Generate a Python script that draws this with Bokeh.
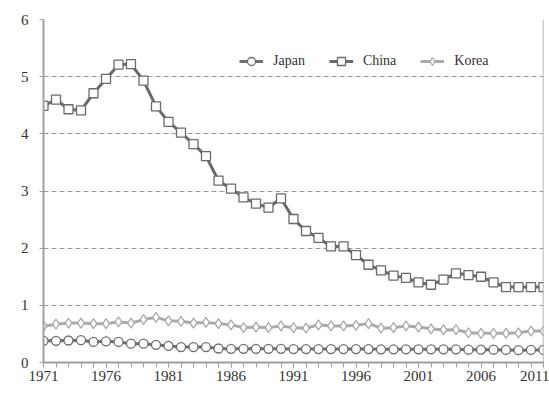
from bokeh.plotting import figure
from bokeh.models import Range1d, FixedTicker, Span, Legend, LegendItem, Label
from bokeh.embed import file_html
from bokeh.resources import INLINE

years = list(range(1971, 2012))

japan = [0.38, 0.38, 0.385, 0.39, 0.36, 0.37, 0.36, 0.33, 0.33, 0.31,
         0.29, 0.27, 0.27, 0.27, 0.245, 0.24, 0.24, 0.24, 0.24, 0.24,
         0.235, 0.235, 0.235, 0.235, 0.235, 0.235, 0.235, 0.23, 0.23, 0.23,
         0.23, 0.23, 0.23, 0.23, 0.225, 0.225, 0.225, 0.22, 0.215, 0.22, 0.22]

china = [4.49, 4.60, 4.43, 4.41, 4.71, 4.96, 5.21, 5.22, 4.93, 4.48,
         4.21, 4.02, 3.82, 3.61, 3.18, 3.04, 2.89, 2.78, 2.71, 2.87,
         2.51, 2.30, 2.18, 2.03, 2.03, 1.88, 1.71, 1.61, 1.52, 1.48,
         1.40, 1.36, 1.45, 1.56, 1.53, 1.50, 1.40, 1.32, 1.32, 1.32, 1.32]

korea = [0.635, 0.67, 0.69, 0.69, 0.68, 0.68, 0.71, 0.69, 0.75, 0.79,
         0.73, 0.72, 0.69, 0.70, 0.68, 0.66, 0.61, 0.62, 0.61, 0.64,
         0.61, 0.60, 0.66, 0.64, 0.64, 0.65, 0.68, 0.60, 0.61, 0.64,
         0.62, 0.59, 0.57, 0.575, 0.52, 0.51, 0.51, 0.51, 0.52, 0.55, 0.55]

series_names = ["Japan", "China", "Korea"]
major_years = list(range(1971, 2012, 5))
y_ticks = [0, 1, 2, 3, 4, 5, 6]
y_title = "CO\u2082 emissions per unit GDP (kg-CO\u2082/US$)"

FONT = "Liberation Serif"
TXT = "#333333"
AX = "#a0a0a0"

p = figure(width=549, height=398, output_backend="svg", toolbar_location=None,
           x_range=Range1d(1971, 2011), y_range=Range1d(0, 6),
           min_border_left=43, min_border_right=6, min_border_top=19, min_border_bottom=36)
p.outline_line_color = None
p.background_fill_color = "white"
p.border_fill_color = "white"

# axes
p.xaxis.ticker = FixedTicker(ticks=major_years, minor_ticks=years)
p.xaxis.major_tick_out = 5
p.xaxis.major_tick_in = 0
p.xaxis.minor_tick_out = 5
p.xaxis.minor_tick_in = 0
p.xaxis.axis_line_color = AX
p.xaxis.major_tick_line_color = AX
p.xaxis.minor_tick_line_color = AX
p.xaxis.axis_line_width = 2
p.xaxis.major_label_text_font = FONT
p.xaxis.major_label_text_font_size = "15px"
p.xaxis.major_label_text_color = TXT
p.xaxis.major_label_standoff = 3

p.yaxis.ticker = FixedTicker(ticks=y_ticks, minor_ticks=[])
p.yaxis.major_tick_out = 4
p.yaxis.major_tick_in = 0
p.yaxis.minor_tick_line_color = None
p.yaxis.axis_line_color = AX
p.yaxis.major_tick_line_color = AX
p.yaxis.axis_line_width = 2
p.yaxis.major_label_text_font = FONT
p.yaxis.major_label_text_font_size = "15px"
p.yaxis.major_label_text_color = TXT
p.yaxis.major_label_standoff = 11

p.xgrid.grid_line_color = None
p.ygrid.ticker = FixedTicker(ticks=y_ticks[1:])
p.ygrid.grid_line_color = "#9a9a9a"
p.ygrid.grid_line_dash = "5 3"
p.ygrid.grid_line_width = 1

p.add_layout(Span(location=2011, dimension="height", line_color=AX, line_width=1.5))

# series
r_j_line = p.line(years, japan, line_color="#6e6e6e", line_width=3)
r_j_mark = p.scatter(years, japan, marker="circle", size=9, fill_color="white",
                     line_color="#6e6e6e", line_width=1.3)
r_c_line = p.line(years, china, line_color="#6a6a6a", line_width=3)
r_c_mark = p.scatter(years, china, marker="square", size=9, fill_color="white",
                     line_color="#6a6a6a", line_width=1.3)
r_k_line = p.line(years, korea, line_color="#aaaaaa", line_width=3)
r_k_mark = p.scatter(years, korea, marker="diamond", size=10, fill_color="white",
                     line_color="#aaaaaa", line_width=1.3)

legend = Legend(items=[
    LegendItem(label=series_names[0], renderers=[r_j_line, r_j_mark]),
    LegendItem(label=series_names[1], renderers=[r_c_line, r_c_mark]),
    LegendItem(label=series_names[2], renderers=[r_k_line, r_k_mark]),
], orientation="horizontal", location=(196, 291))
legend.background_fill_alpha = 0
legend.border_line_color = None
legend.padding = 0
legend.margin = 0
legend.spacing = 24
legend.glyph_width = 24
legend.label_standoff = 10
legend.label_text_font = FONT
legend.label_text_font_size = "14px"
legend.label_text_color = TXT
p.add_layout(legend)

# y-axis title, mostly cropped off the left edge as in the source
p.add_layout(Label(x=1971 - 44 / 12.5, y=3.1, text=y_title, angle=1.5708,
                   text_align="center", text_baseline="alphabetic",
                   text_font=FONT, text_font_size="13px", text_color="#808080"))

open("out.html", "w").write(file_html(p, INLINE))
